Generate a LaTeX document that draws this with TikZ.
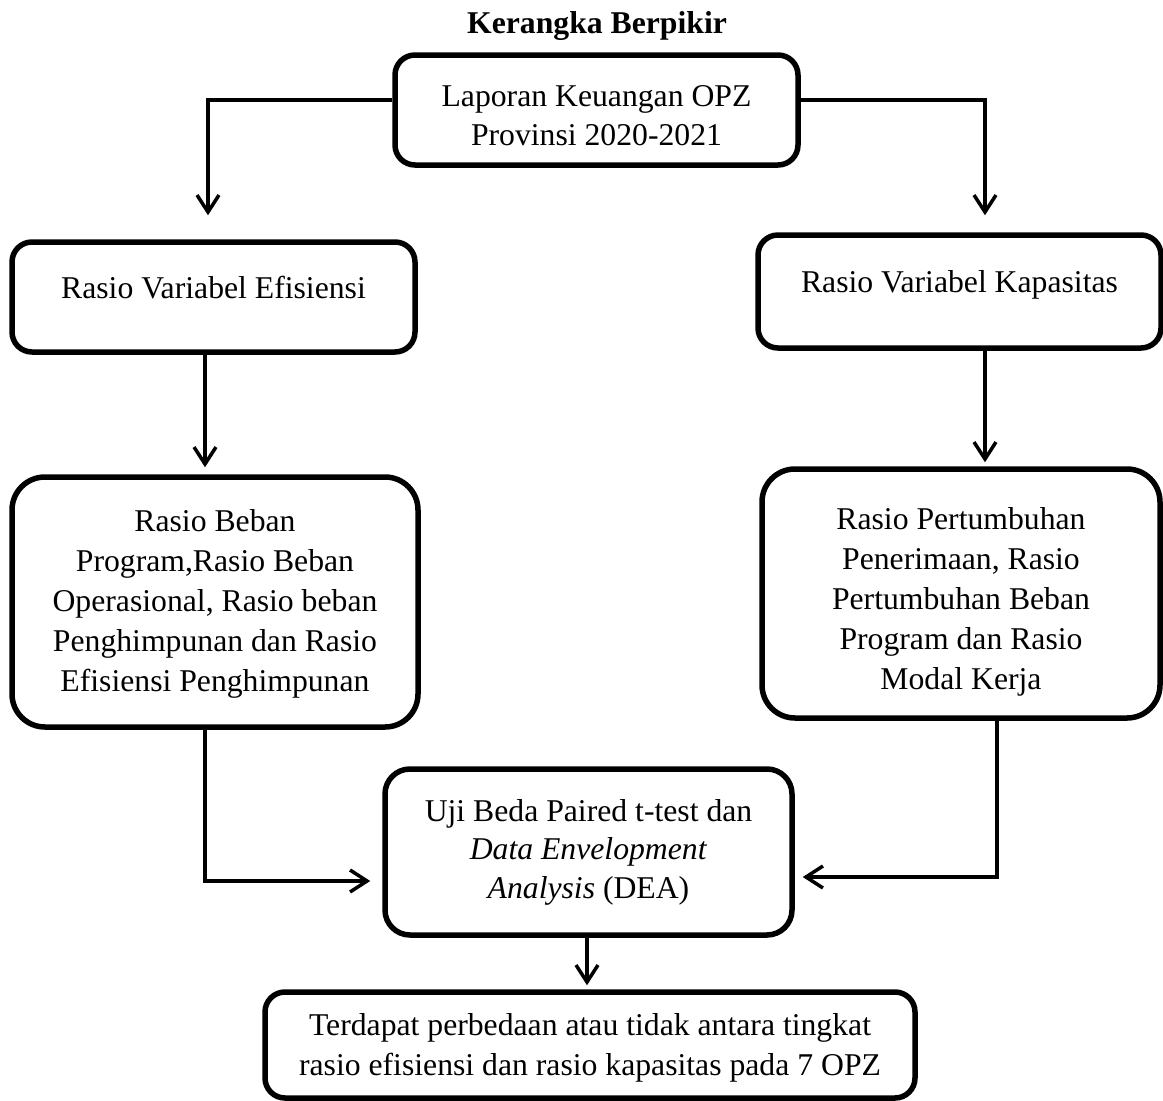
\documentclass[tikz,border=0pt]{standalone}
\usepackage{fontspec}
\setmainfont{Liberation Serif}
\usetikzlibrary{arrows.meta}
\newcommand{\padtop}[1]{\rule{0pt}{#1}}
\begin{document}
\begin{tikzpicture}[x=1pt,y=-1pt,
  box/.style={draw, line width=5.5pt, rounded corners=20pt, inner sep=0pt, align=center,
    font=\fontsize{31.7}{38.5}\selectfont},
  wide/.style={font=\fontsize{31.7}{40}\selectfont},
  bigbox/.style={box, wide, rounded corners=33pt},
  conn/.style={line width=3.5pt, -{Straight Barb[length=17pt,width=22pt]}},
  titletext/.style={font=\fontsize{31.7}{38.5}\selectfont\bfseries, inner sep=0pt}
]
\useasboundingbox (0,0) rectangle (1163,1101);

\node[titletext, anchor=base] (title) at (597,33) {Kerangka Berpikir};

\node[box, minimum width=403pt, minimum height=110pt] (b1) at (596.5,110)
  {\padtop{32pt}Laporan Keuangan OPZ\\Provinsi 2020-2021};

\node[box, minimum width=403pt, minimum height=110pt, text height=24pt, text depth=22pt] (b2) at (213.5,297)
  {Rasio Variabel Efisiensi};

\node[box, minimum width=403pt, minimum height=113pt, text height=24pt, text depth=22pt] (b3) at (959.5,291.5)
  {Rasio Variabel Kapasitas};

\node[bigbox, minimum width=406pt, minimum height=250pt] (b4) at (215,602)
  {\padtop{26pt}Rasio Beban\\Program,Rasio Beban\\Operasional, Rasio beban\\Penghimpunan dan Rasio\\Efisiensi Penghimpunan};

\node[bigbox, minimum width=398pt, minimum height=249pt] (b5) at (961,593.5)
  {\padtop{38pt}Rasio Pertumbuhan\\Penerimaan, Rasio\\Pertumbuhan Beban\\Program dan Rasio\\Modal Kerja};

\node[box, rounded corners=25pt, minimum width=407pt, minimum height=166pt] (b6) at (588.5,852)
  {Uji Beda Paired t-test dan\\\textit{Data Envelopment}\\\textit{Analysis} (DEA)};

\node[box, wide, minimum width=650pt, minimum height=106pt] (b7) at (590,1045)
  {\padtop{28pt}Terdapat perbedaan atau tidak antara tingkat\\rasio efisiensi dan rasio kapasitas pada 7 OPZ};

\draw[conn, shorten >=24pt] ([yshift=10pt]b1.west) -| ([xshift=-5.5pt]b2.north);
\draw[conn, shorten >=17pt] ([yshift=10pt]b1.east) -| ([xshift=25.5pt]b3.north);
\draw[conn, shorten >=7pt] ([xshift=-8.5pt]b2.south) -- ([xshift=-8.5pt]b2.south |- b4.north);
\draw[conn, shorten >=4pt] ([xshift=25.5pt]b3.south) -- ([xshift=25.5pt]b3.south |- b5.north);
\draw[conn, shorten >=12pt] ([xshift=-10pt]b4.south) |- ([yshift=-29pt]b6.west);
\draw[conn, shorten >=8pt] ([xshift=36pt]b5.south) |- ([yshift=-25pt]b6.east);
\draw[conn, shorten >=4pt] ([xshift=-1.5pt]b6.south) -- ([xshift=-1.5pt]b6.south |- b7.north);
\end{tikzpicture}
\end{document}
